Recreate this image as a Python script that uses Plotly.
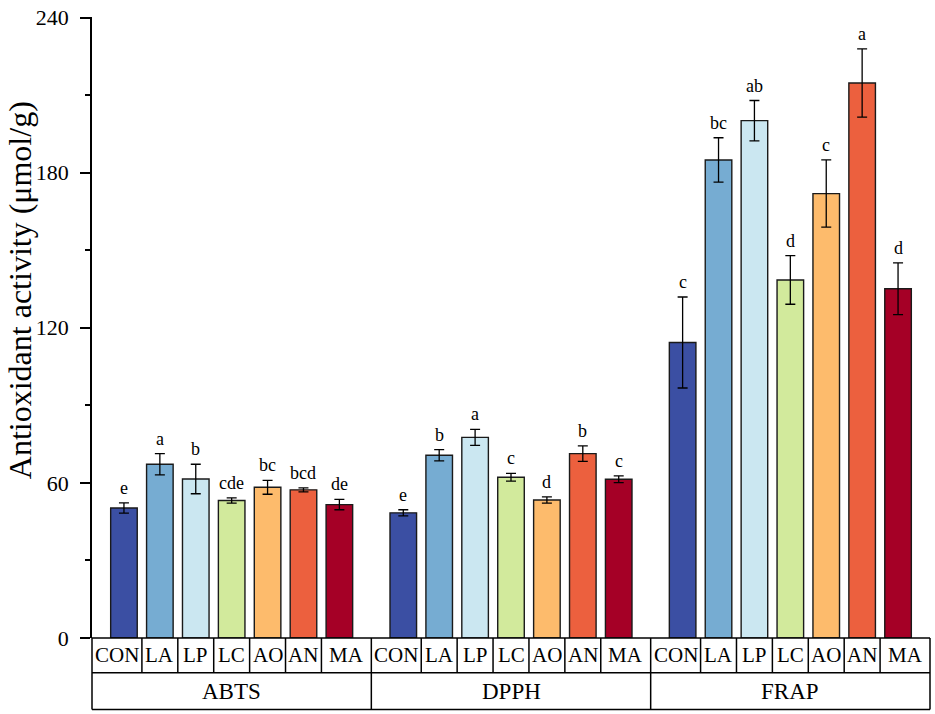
import plotly.graph_objects as go

# data
assays = ["ABTS", "DPPH", "FRAP"]
treatments = ["CON", "LA", "LP", "LC", "AO", "AN", "MA"]

abts_mean = [50.3, 67.2, 61.5, 53.2, 58.3, 57.3, 51.6]
abts_err = [2.0, 4.1, 5.7, 1.0, 2.7, 0.8, 2.0]
abts_sig = ["e", "a", "b", "cde", "bc", "bcd", "de"]

dpph_mean = [48.4, 70.7, 77.6, 62.2, 53.4, 71.3, 61.4]
dpph_err = [1.2, 2.2, 3.1, 1.5, 1.2, 3.0, 1.3]
dpph_sig = ["e", "b", "a", "c", "d", "b", "c"]

frap_mean = [114.3, 184.9, 200.1, 138.5, 171.9, 214.7, 135.1]
frap_err = [17.6, 8.6, 7.8, 9.4, 13.0, 13.2, 10.0]
frap_sig = ["c", "bc", "ab", "d", "c", "a", "d"]

colors = ["#3B4FA3", "#76ACD2", "#CBE7F1", "#D2EA9C", "#FDBB6C", "#EC603E", "#A50026"]

means = [abts_mean, dpph_mean, frap_mean]
errs = [abts_err, dpph_err, frap_err]
sigs = [abts_sig, dpph_sig, frap_sig]

FONT = "Liberation Serif, Times New Roman, serif"
stride = 7.78          # spacing between assay groups (in bar slots)
pad = (stride - 6) / 2 # half gap at group edges
row1 = -0.056          # table rows below plot (paper units)
row2 = -0.115

fig = go.Figure()

# one trace per treatment so each keeps its colour across the three assays
for i, t in enumerate(treatments):
    xs = [g * stride + i for g in range(len(assays))]
    fig.add_trace(go.Bar(
        x=xs,
        y=[means[g][i] for g in range(len(assays))],
        width=0.74,
        name=t,
        marker=dict(color=colors[i], line=dict(color="#1a1a1a", width=1.4)),
        error_y=dict(type="data", array=[errs[g][i] for g in range(len(assays))],
                     color="black", thickness=1.3, width=5),
        showlegend=False,
    ))

annotations = []
shapes = []

for g, assay in enumerate(assays):
    for i, t in enumerate(treatments):
        x = g * stride + i
        # significance letters
        annotations.append(dict(
            x=x, y=means[g][i] + errs[g][i], xref="x", yref="y",
            text=sigs[g][i], showarrow=False, yanchor="bottom", yshift=3,
            font=dict(family=FONT, size=18, color="black")))
        # treatment labels (first table row), centred in their cell
        if i == 0:
            xl = g * stride + (0.5 - pad) / 2
        elif i == len(treatments) - 1:
            xl = g * stride + (5.5 + 6 + pad) / 2
        else:
            xl = x
        annotations.append(dict(
            x=xl, y=row1 / 2, xref="x", yref="paper", text=t, showarrow=False,
            yanchor="middle", font=dict(family=FONT, size=21, color="black")))
        # cell dividers between treatments
        if i < len(treatments) - 1:
            shapes.append(dict(type="line", xref="x", yref="paper",
                               x0=x + 0.5, x1=x + 0.5, y0=0, y1=row1,
                               line=dict(color="black", width=1.5)))
    # assay labels (second table row)
    annotations.append(dict(
        x=g * stride + 3, y=(row1 + row2) / 2, xref="x", yref="paper",
        text=assay, showarrow=False, yanchor="middle",
        font=dict(family=FONT, size=23, color="black")))
    if g < len(assays) - 1:
        xb = g * stride + 6 + pad
        shapes.append(dict(type="line", xref="x", yref="paper",
                           x0=xb, x1=xb, y0=0, y1=row2,
                           line=dict(color="black", width=1.5)))

# outer frame of the label table
for yy in [0, row1, row2]:
    shapes.append(dict(type="line", xref="paper", yref="paper",
                       x0=0, x1=1, y0=yy, y1=yy,
                       line=dict(color="black", width=1.5)))
for xx in [0, 1]:
    shapes.append(dict(type="line", xref="paper", yref="paper",
                       x0=xx, x1=xx, y0=0, y1=row2,
                       line=dict(color="black", width=1.5)))

# y-axis title, set a little above centre as in the original
annotations.append(dict(
    x=-0.086, y=0.56, xref="paper", yref="paper", text="Antioxidant activity (μmol/g)",
    textangle=-90, showarrow=False, xanchor="center", yanchor="middle",
    font=dict(family=FONT, size=32, color="black")))

fig.update_layout(
    width=935, height=714,
    margin=dict(l=92, r=5, t=12, b=76),
    plot_bgcolor="white", paper_bgcolor="white",
    barmode="overlay",
    xaxis=dict(range=[-pad, 2 * stride + 6 + pad], showticklabels=False,
               showgrid=False, zeroline=False, showline=False, ticks=""),
    yaxis=dict(
        range=[0, 240.2], tickvals=[0, 60, 120, 180, 240],
        showgrid=False, zeroline=False,
        showline=True, linecolor="black", linewidth=1.5,
        ticks="outside", ticklen=10, tickwidth=1.5, tickcolor="black",
        minor=dict(tickvals=[30, 90, 150, 210], ticks="outside", ticklen=5,
                   tickwidth=1.5, tickcolor="black"),
        tickfont=dict(family=FONT, size=22, color="black"),
        ticklabelstandoff=7,
    ),
    annotations=annotations,
    shapes=shapes,
)

fig.write_html("out.html", config={"displayModeBar": False},
               post_script="document.body.style.margin='0';")
